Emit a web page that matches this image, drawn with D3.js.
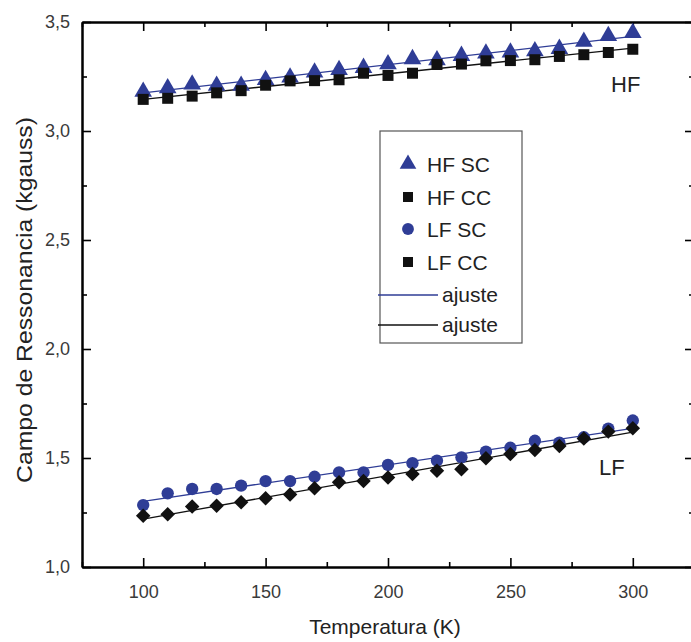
<!DOCTYPE html>
<html>
<head>
<meta charset="utf-8">
<script src="https://cdn.jsdelivr.net/npm/d3@7"></script>
<style>
  body { margin: 0; background: #fff; }
  svg { display: block; font-family: "Liberation Sans", Arial, sans-serif; }
</style>
</head>
<body>
<svg width="691" height="642"></svg>
<script>
var temps = [100, 110, 120, 130, 140, 150, 160, 170, 180, 190, 200, 210, 220, 230, 240, 250, 260, 270, 280, 290, 300];
var hfSC = [3.180, 3.196, 3.214, 3.208, 3.208, 3.234, 3.246, 3.269, 3.280, 3.290, 3.307, 3.330, 3.325, 3.345, 3.356, 3.360, 3.366, 3.377, 3.410, 3.436, 3.450];
var hfCC = [3.145, 3.150, 3.160, 3.175, 3.185, 3.210, 3.230, 3.231, 3.235, 3.265, 3.255, 3.265, 3.305, 3.307, 3.322, 3.323, 3.327, 3.342, 3.350, 3.360, 3.375];
var lfSC = [1.284, 1.338, 1.358, 1.358, 1.373, 1.394, 1.394, 1.414, 1.434, 1.434, 1.468, 1.476, 1.488, 1.503, 1.529, 1.547, 1.579, 1.570, 1.595, 1.635, 1.672];
var lfCC = [1.235, 1.242, 1.277, 1.281, 1.297, 1.315, 1.333, 1.361, 1.389, 1.394, 1.410, 1.427, 1.442, 1.448, 1.499, 1.518, 1.537, 1.555, 1.590, 1.621, 1.636];
var xMajor = [100, 150, 200, 250, 300];
var xMinor = [75, 125, 175, 225, 275, 325];
var yMajor = [1.0, 1.5, 2.0, 2.5, 3.0, 3.5];
var yMinor = [1.25, 1.75, 2.25, 2.75, 3.25];
var legendLabels = ["HF SC", "HF CC", "LF SC", "LF CC", "ajuste", "ajuste"];

(function() {
	var blue = "#2f3d96", black = "#111";

	var svg = d3.select("svg");
	var mLeft = 82, mTop = 22, mBottom = 567, mRight = 694;

	var x = d3.scaleLinear().domain([75, 325]).range([mLeft, mRight]);
	var y = d3.scaleLinear().domain([1, 3.5]).range([mBottom, mTop]);
	var fmt = function(d) { return d3.format(".1f")(d).replace(".", ","); };

	function styleAxis(g) {
		g.select(".domain").attr("stroke", "#000").attr("stroke-width", 2);
		g.selectAll(".tick line").attr("stroke", "#000").attr("stroke-width", 1.6);
		g.selectAll(".tick text").attr("fill", "#3a3a3a").attr("font-size", 18)
			.attr("font-family", "Liberation Sans, Arial, sans-serif");
	}

	function addAxis(axis, tx, ty) {
		svg.append("g").attr("transform", "translate(" + tx + "," + ty + ")")
			.call(axis.tickSizeOuter(0))
			.call(styleAxis);
	}

	// bottom / top
	addAxis(d3.axisBottom(x).tickValues(xMajor).tickSize(-9).tickPadding(18), 0, mBottom);
	addAxis(d3.axisBottom(x).tickValues(xMinor).tickSize(-5).tickFormat(""), 0, mBottom);
	addAxis(d3.axisTop(x).tickValues(xMajor).tickSize(-9).tickFormat(""), 0, mTop);
	addAxis(d3.axisTop(x).tickValues(xMinor).tickSize(-5).tickFormat(""), 0, mTop);
	// left / right
	addAxis(d3.axisLeft(y).tickValues(yMajor).tickSize(-9).tickPadding(12).tickFormat(fmt), mLeft, 0);
	addAxis(d3.axisLeft(y).tickValues(yMinor).tickSize(-5).tickFormat(""), mLeft, 0);
	addAxis(d3.axisRight(y).tickValues(yMajor).tickSize(-9).tickFormat(""), mRight, 0);
	addAxis(d3.axisRight(y).tickValues(yMinor).tickSize(-5).tickFormat(""), mRight, 0);

	// axis titles
	svg.append("text")
		.attr("x", 385).attr("y", 634)
		.attr("text-anchor", "middle").attr("font-size", 21).attr("fill", "#222")
		.text("Temperatura (K)");
	svg.append("text")
		.attr("transform", "translate(32," + 300 + ") rotate(-90)")
		.attr("text-anchor", "middle").attr("font-size", 22).attr("fill", "#222")
		.attr("textLength", 366).attr("lengthAdjust", "spacingAndGlyphs")
		.text("Campo de Ressonancia (kgauss)");

	// linear fits (ajuste)
	function fit(vals) {
		var mx = d3.mean(temps), my = d3.mean(vals);
		var sxy = d3.sum(temps, function(t, i) { return (t - mx) * (vals[i] - my); });
		var sxx = d3.sum(temps, function(t) { return (t - mx) * (t - mx); });
		var b = sxy / sxx, a = my - b * mx;
		return [100, 300].map(function(t) { return [t, a + b * t]; });
	}
	var line = d3.line().x(function(d) { return x(d[0]); }).y(function(d) { return y(d[1]); });

	var series = [
		{ vals: hfSC, color: blue, sym: d3.symbolTriangle, size: 135, rot: 0 },
		{ vals: hfCC, color: black, sym: d3.symbolSquare, size: 121, rot: 0 },
		{ vals: lfSC, color: blue, sym: d3.symbolCircle, size: 120, rot: 0 },
		{ vals: lfCC, color: black, sym: d3.symbolSquare, size: 105, rot: 45 }
	];

	series.forEach(function(s) {
		svg.append("path").datum(fit(s.vals))
			.attr("d", line).attr("fill", "none")
			.attr("stroke", s.color).attr("stroke-width", 1.3);
	});

	series.forEach(function(s) {
		svg.append("g").selectAll("path")
			.data(s.vals)
			.enter().append("path")
			.attr("transform", function(d, i) {
				return "translate(" + x(temps[i]) + "," + y(d) + ") rotate(" + s.rot + ")";
			})
			.attr("d", d3.symbol().type(s.sym).size(s.size))
			.attr("fill", s.color);
	});

	// labels
	svg.append("text").attr("x", 611).attr("y", 92).attr("font-size", 22).attr("fill", "#222").text("HF");
	svg.append("text").attr("x", 599).attr("y", 475).attr("font-size", 22).attr("fill", "#222").text("LF");

	// legend
	var lg = svg.append("g");
	lg.append("rect").attr("x", 380).attr("y", 131).attr("width", 142).attr("height", 212)
		.attr("fill", "#fff").attr("stroke", "#555").attr("stroke-width", 1.2);
	var legendSyms = [
		{ color: blue, sym: d3.symbolTriangle, size: 120 },
		{ color: black, sym: d3.symbolSquare, size: 100 },
		{ color: blue, sym: d3.symbolCircle, size: 110 },
		{ color: black, sym: d3.symbolSquare, size: 100 },
		{ color: blue, line: true },
		{ color: black, line: true }
	];
	var rowY = [164, 197, 229, 262, 295, 325];
	legendLabels.forEach(function(lbl, i) {
		var s = legendSyms[i];
		if (s.line) {
			lg.append("line").attr("x1", 378).attr("x2", 438).attr("y1", rowY[i]).attr("y2", rowY[i])
				.attr("stroke", s.color).attr("stroke-width", 1.3);
			lg.append("text").attr("x", 442).attr("y", rowY[i] + 7).attr("font-size", 21).attr("fill", "#222").text(lbl);
		} else {
			lg.append("path").attr("transform", "translate(408," + rowY[i] + ")")
				.attr("d", d3.symbol().type(s.sym).size(s.size)).attr("fill", s.color);
			lg.append("text").attr("x", 427).attr("y", rowY[i] + 8).attr("font-size", 21).attr("fill", "#222").text(lbl);
		}
	});
})();
</script>
</body>
</html>
